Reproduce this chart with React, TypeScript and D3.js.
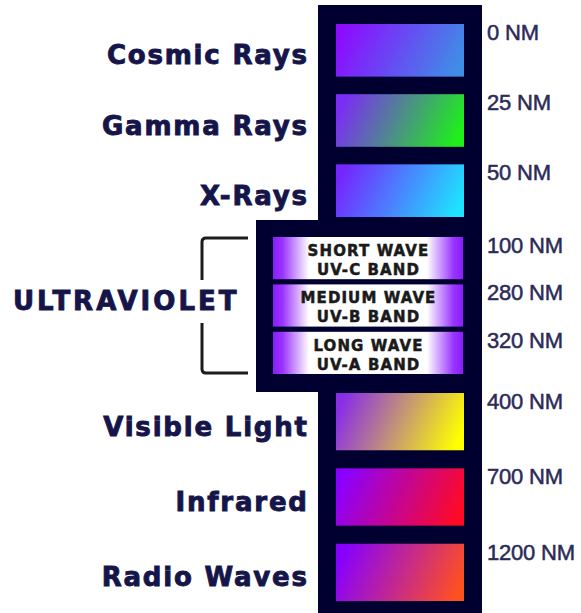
import React from "react";
import * as d3 from "d3";

// ---- data ----
const topCategories = ["Cosmic Rays", "Gamma Rays", "X-Rays"];
const uvTitle = "ULTRAVIOLET";
const uvWaveNames = ["SHORT WAVE", "MEDIUM WAVE", "LONG WAVE"];
const uvBandNames = ["UV-C BAND", "UV-B BAND", "UV-A BAND"];
const bottomCategories = ["Visible Light", "Infrared", "Radio Waves"];
const wavelengthsNm = [0, 25, 50, 100, 280, 320, 400, 700, 1200];

// ---- styles ----
const bandStartColors = ["#8c0cff", "#7b2cf6", "#7426ff", "#8a2ee6", "#8a00ff", "#8600ff"];
const bandEndColors = ["#3f8ee6", "#1ef01a", "#1ee2ff", "#ffff00", "#ff0a24", "#ff5020"];

const W = 581;
const H = 613;
const NAVY = "#000030";
const LABEL = "#15154a";

export default function App() {
  const colX0 = 318, colX1 = 482, colTop = 5;
  const barX = d3.scaleLinear().domain([0, 1]).range([336, 464]);
  const uvBarX = d3.scaleLinear().domain([0, 1]).range([273, 463]);
  const uvX0 = 256;

  const yTop = d3.scaleBand<string>().domain(topCategories).range([24, 217]).paddingInner(0.25);
  const yUv = d3.scaleBand<string>().domain(uvBandNames).range([237, 374]).paddingInner(0.11);
  const yBottom = d3.scaleBand<string>().domain(bottomCategories).range([393, 601]).paddingInner(0.24);

  const mainRows = [
    ...topCategories.map((c) => ({ name: c, y: yTop(c)!, h: yTop.bandwidth() })),
    ...bottomCategories.map((c) => ({ name: c, y: yBottom(c)!, h: yBottom.bandwidth() })),
  ];
  const uvRows = uvBandNames.map((b, i) => ({ wave: uvWaveNames[i], band: b, y: yUv(b)!, h: yUv.bandwidth() }));

  const rowTops = [
    ...topCategories.map((c) => yTop(c)!),
    ...uvBandNames.map((b) => yUv(b)!),
    ...bottomCategories.map((c) => yBottom(c)!),
  ];

  const uvTop = yUv.range()[0];
  const uvBottom = yUv.range()[1];
  const boxTop = uvTop - 17;
  const boxBottom = uvBottom + 18;

  const darkPath = d3.path();
  darkPath.moveTo(colX0, colTop);
  darkPath.lineTo(colX1, colTop);
  darkPath.lineTo(colX1, H);
  darkPath.lineTo(colX0, H);
  darkPath.lineTo(colX0, boxBottom);
  darkPath.lineTo(uvX0, boxBottom);
  darkPath.lineTo(uvX0, boxTop);
  darkPath.lineTo(colX0, boxTop);
  darkPath.closePath();

  const bx = 202, bEnd = 248;
  const bTop = uvTop + 1, bBot = uvBottom - 1;
  const bracket =
    `M${bEnd},${bTop} H${bx + 4} Q${bx},${bTop} ${bx},${bTop + 4} V${280} ` +
    `M${bx},${323} V${bBot - 4} Q${bx},${bBot} ${bx + 4},${bBot} H${bEnd}`;

  const leftFont = {
    fontFamily: "'DejaVu Sans', Verdana, sans-serif",
    fontWeight: 700,
    fontSize: 26,
    letterSpacing: 1.8,
    fill: LABEL,
    stroke: LABEL,
    strokeWidth: 0.9,
  } as const;

  const uvFont = {
    fontFamily: "'DejaVu Sans', sans-serif",
    fontWeight: 700,
    fontSize: 15,
    letterSpacing: 1.1,
    fill: "#1a1a1a",
    stroke: "#1a1a1a",
    strokeWidth: 0.5,
  } as const;

  return (
    <svg
      width={W}
      height={H}
      viewBox={`0 0 ${W} ${H}`}
      style={{ position: "absolute", left: 0, top: 0, background: "#fff" }}
    >
      <defs>
        {mainRows.map((r, i) => (
          <linearGradient key={r.name} id={`g${i}`} x1="0" y1="0.4" x2="1" y2="0.6">
            <stop offset="0" stopColor={bandStartColors[i]} />
            <stop offset="1" stopColor={bandEndColors[i]} />
          </linearGradient>
        ))}
        <linearGradient id="uvg" x1="0" y1="0" x2="1" y2="0">
          <stop offset="0" stopColor="#8a1cff" />
          <stop offset="0.05" stopColor="#9a34ff" />
          <stop offset="0.19" stopColor="#ffffff" />
          <stop offset="0.81" stopColor="#ffffff" />
          <stop offset="0.95" stopColor="#9a34ff" />
          <stop offset="1" stopColor="#8a1cff" />
        </linearGradient>
      </defs>

      <path d={darkPath.toString()} fill={NAVY} />

      {mainRows.map((r, i) => (
        <rect key={r.name} x={barX(0)} y={r.y} width={barX(1) - barX(0)} height={r.h} fill={`url(#g${i})`} />
      ))}

      {uvRows.map((r) => (
        <g key={r.band}>
          <rect x={uvBarX(0)} y={r.y} width={uvBarX(1) - uvBarX(0)} height={r.h} fill="url(#uvg)" />
          <text x={uvBarX(0.5) + 0.5} y={r.y + 19} textAnchor="middle" style={uvFont}>
            {r.wave}
          </text>
          <text x={uvBarX(0.5) + 0.5} y={r.y + 38} textAnchor="middle" style={uvFont}>
            {r.band}
          </text>
        </g>
      ))}

      {mainRows.map((r) => (
        <text key={r.name} x={307 + 1.8} y={r.y + r.h / 2 + 14} textAnchor="end" style={leftFont}>
          {r.name}
        </text>
      ))}

      <text x={13} y={(uvTop + uvBottom) / 2 + 4} style={{ ...leftFont, letterSpacing: 3 }}>
        {uvTitle}
      </text>

      <path d={bracket} fill="none" stroke="#1c1c1c" strokeWidth={3} />

      {wavelengthsNm.map((v, i) => (
        <text
          key={v}
          x={487}
          y={rowTops[i] + 16}
          style={{
            fontFamily: "'Liberation Sans', Arial, sans-serif",
            fontSize: 22,
            letterSpacing: -0.2,
            fill: "#2b2b58",
            stroke: "#2b2b58",
            strokeWidth: 0.5,
          }}
        >
          {`${v} NM`}
        </text>
      ))}
    </svg>
  );
}
